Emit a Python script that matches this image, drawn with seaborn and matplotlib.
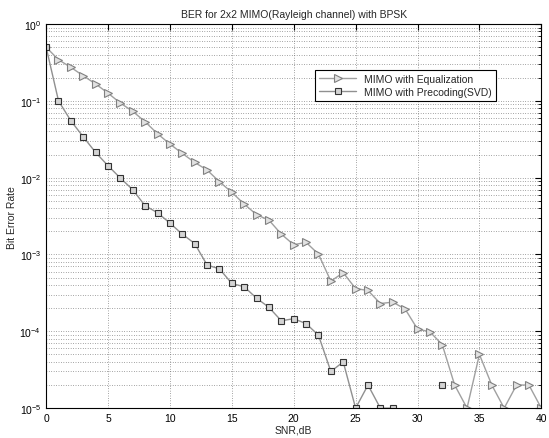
import matplotlib
matplotlib.use("Agg")
import matplotlib.pyplot as plt
from matplotlib.lines import Line2D
from matplotlib.ticker import LogLocator, NullFormatter, MultipleLocator
import numpy as np
import pandas as pd
import seaborn as sns

# SNR in dB
snr = list(range(0, 41))

# MIMO with equalization (triangles)
ber_eq = [0.5, 0.343, 0.273, 0.212, 0.166, 0.126, 0.0935, 0.073, 0.0534, 0.0373,
          0.0274, 0.0207, 0.0158, 0.0126, 0.00885, 0.00645, 0.00453, 0.0033, 0.0028, 0.00184,
          0.00134, 0.00144, 0.00101, 0.00045, 0.00058, 0.00036, 0.00034, 0.00023, 0.00024, 0.000195,
          0.000107, 0.0000986, 0.000067, 0.00002, 0.00001, 0.00005, 0.00002, 0.00001, 0.00002, 0.00002,
          0.00001]

# MIMO with precoding (SVD) (squares), NaN where no errors were counted
ber_svd = [0.5, 0.1, 0.055, 0.034, 0.0213, 0.0143, 0.00988, 0.00696, 0.0043, 0.0035,
           0.00256, 0.00184, 0.00139, 0.00073, 0.00065, 0.00042, 0.00038, 0.00027, 0.000205, 0.000137,
           0.000146, 0.000126, 0.000089, 0.00003, 0.00004, 0.00001, 0.00002, 0.00001, 0.00001, np.nan,
           np.nan, np.nan, 0.00002, np.nan, np.nan, np.nan, np.nan, np.nan, np.nan, np.nan,
           np.nan]

labels = ["MIMO with Equalization", "MIMO with Precoding(SVD)"]

df_eq = pd.DataFrame({"snr": snr, "ber": ber_eq})
df_svd = pd.DataFrame({"snr": snr, "ber": ber_svd})
# split the precoding curve where BER is zero so the line has gaps
df_svd["seg"] = df_svd["ber"].isna().cumsum()
df_svd = df_svd.dropna()

sns.set_style("white")
plt.rcParams["font.family"] = ["Liberation Sans", "DejaVu Sans"]
plt.rcParams["font.size"] = 7.5

fig = plt.figure(figsize=(5.49, 4.39), dpi=100)
ax = fig.add_axes([0.084, 0.068, 0.902, 0.875])

eq_style = dict(color="#a0a0a0", linewidth=1.0, marker=">", markersize=6,
                markerfacecolor="#e2e2e2", markeredgecolor="#808080", markeredgewidth=0.8)
svd_style = dict(color="#909090", linewidth=1.0, marker="s", markersize=4.5,
                 markerfacecolor="#d4d4d4", markeredgecolor="#333333", markeredgewidth=0.8)

sns.lineplot(data=df_eq, x="snr", y="ber", ax=ax, estimator=None, **eq_style)
sns.lineplot(data=df_svd, x="snr", y="ber", units="seg", estimator=None, ax=ax, **svd_style)

ax.set_yscale("log")
ax.set_xlim(0, 40)
ax.set_ylim(1e-5, 1)
ax.xaxis.set_major_locator(MultipleLocator(5))
ax.yaxis.set_major_locator(LogLocator(base=10, numticks=10))
ax.yaxis.set_minor_locator(LogLocator(base=10, subs=np.arange(2, 10), numticks=20))
ax.yaxis.set_minor_formatter(NullFormatter())

grid_kw = dict(color="#505050", linestyle=(0, (1, 2.5)), linewidth=0.5)
ax.grid(True, which="major", **grid_kw)
ax.grid(True, which="minor", axis="y", **grid_kw)
ax.tick_params(which="both", direction="in", top=True, right=True, colors="black",
               labelsize=7.5, length=4)
ax.tick_params(which="minor", length=2)
for s in ax.spines.values():
    s.set_color("black")
    s.set_linewidth(0.8)

ax.set_title("BER for 2x2 MIMO(Rayleigh channel) with BPSK", fontsize=7.5, pad=5)
ax.set_xlabel("SNR,dB", fontsize=7.5, labelpad=1)
ax.set_ylabel("Bit Error Rate", fontsize=7.5, labelpad=2)

handles = [Line2D([], [], **eq_style), Line2D([], [], **svd_style)]
leg = ax.legend(handles, labels, loc="upper left", bbox_to_anchor=(0.533, 0.895),
                fancybox=False, framealpha=1, edgecolor="black", fontsize=7.5,
                handlelength=3.5, borderpad=0.4, labelspacing=0.3)
leg.get_frame().set_linewidth(0.8)

fig.savefig("out.png", dpi=100)
